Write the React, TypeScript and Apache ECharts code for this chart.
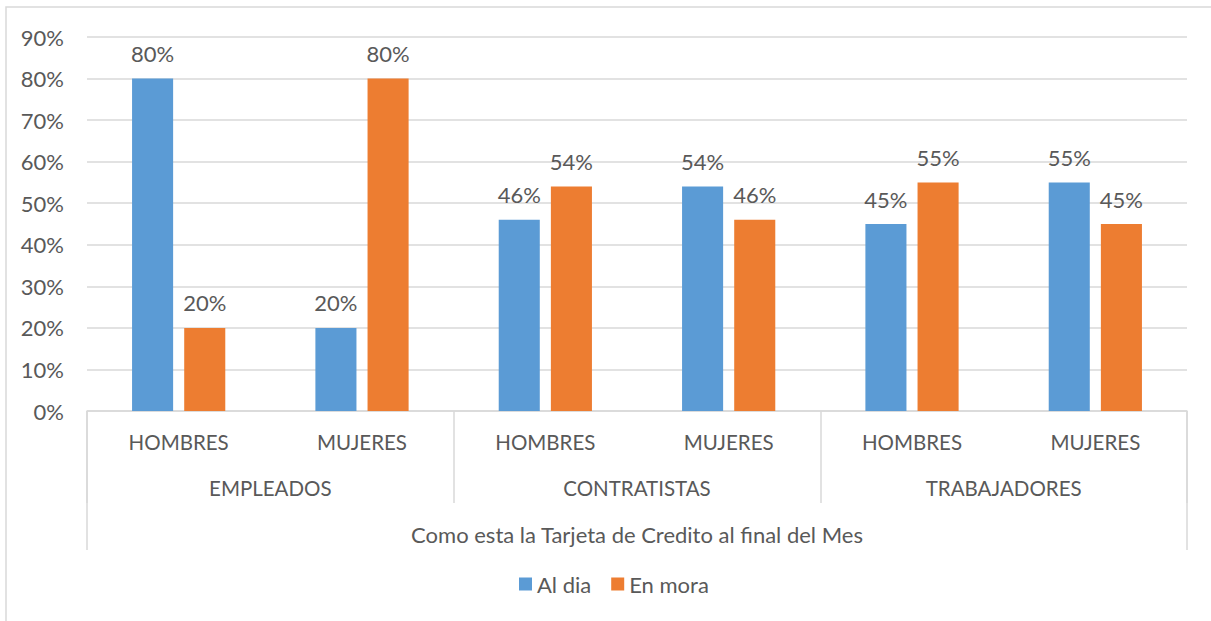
import React, { useEffect, useRef } from "react";
import * as echarts from "echarts";

const subCategories = ["HOMBRES", "MUJERES", "HOMBRES", "MUJERES", "HOMBRES", "MUJERES"];
const groups = ["EMPLEADOS", "CONTRATISTAS", "TRABAJADORES"];
const axisTitle = ["Como esta la Tarjeta de Credito al final del Mes"];
const alDia = [80, 20, 46, 54, 45, 55];
const enMora = [20, 80, 54, 46, 55, 45];
const seriesNames = ["Al dia", "En mora"];

const FONT = "Lato, 'Open Sans', sans-serif";
const TEXT = "#595959";
const GRID = "#D9D9D9";
const FS = 22;
const FS_CAPS = 20.5;

export default function App() {
  const ref = useRef<HTMLDivElement>(null);
  useEffect(() => {
    if (!ref.current) return;
    const chart = echarts.init(ref.current, null, { renderer: "svg" });
    const labelCfg = {
      show: true,
      position: "top" as const,
      distance: 14,
      formatter: "{c}%",
      color: TEXT,
      fontFamily: FONT,
      fontSize: FS,
      lineHeight: FS,
    };
    chart.setOption({
      animation: false,
      backgroundColor: "#fff",
      textStyle: { fontFamily: FONT },
      graphic: [
        {
          type: "rect",
          shape: { x: 6, y: 7, width: 1300, height: 700 },
          style: { fill: "none", stroke: GRID, lineWidth: 1.5 },
          silent: true,
        },
      ],
      grid: { left: 87, right: 24, top: 37, bottom: 210, containLabel: false },
      legend: {
        data: seriesNames,
        bottom: 21,
        left: 514,
        itemWidth: 13,
        itemHeight: 13,
        itemGap: 20,
        icon: "rect",
        textStyle: { color: TEXT, fontFamily: FONT, fontSize: FS },
      },
      xAxis: [
        {
          type: "category",
          data: subCategories,
          position: "bottom",
          axisLine: { show: true, lineStyle: { color: GRID, width: 1.5 } },
          axisTick: { show: false },
          axisLabel: {
            color: TEXT,
            fontFamily: FONT,
            fontSize: FS_CAPS,
            lineHeight: FS,
            margin: 20,
            interval: 0,
          },
        },
        {
          type: "category",
          data: groups,
          position: "bottom",
          gridIndex: 0,
          axisLine: { show: false },
          axisTick: { show: true, length: 92, interval: 0, lineStyle: { color: GRID, width: 1.5 } },
          axisLabel: {
            color: TEXT,
            fontFamily: FONT,
            fontSize: FS_CAPS,
            lineHeight: FS,
            margin: 66,
            interval: 0,
          },
        },
        {
          type: "category",
          data: axisTitle,
          position: "bottom",
          gridIndex: 0,
          axisLine: { show: false },
          axisTick: { show: true, length: 139, interval: 0, lineStyle: { color: GRID, width: 1.5 } },
          axisLabel: {
            color: TEXT,
            fontFamily: FONT,
            fontSize: FS,
            lineHeight: FS,
            margin: 112,
            interval: 0,
          },
        },
      ],
      yAxis: {
        type: "value",
        min: 0,
        max: 90,
        interval: 10,
        axisLine: { show: false },
        axisTick: { show: false },
        splitLine: { lineStyle: { color: GRID, width: 1.5 } },
        axisLabel: {
          formatter: "{value}%",
          color: TEXT,
          fontFamily: FONT,
          fontSize: FS,
          margin: 23,
        },
      },
      series: [
        {
          name: seriesNames[0],
          type: "bar",
          data: alDia,
          xAxisIndex: 0,
          barWidth: "22.4%",
          barGap: "27%",
          itemStyle: { color: "#5B9BD5" },
          label: labelCfg,
        },
        {
          name: seriesNames[1],
          type: "bar",
          data: enMora,
          xAxisIndex: 0,
          barWidth: "22.4%",
          barGap: "27%",
          itemStyle: { color: "#ED7D31" },
          label: labelCfg,
        },
      ],
    });
    return () => chart.dispose();
  }, []);
  return (
    <div
      ref={ref}
      style={{ position: "absolute", left: 0, top: 0, width: 1211, height: 621 }}
    />
  );
}
